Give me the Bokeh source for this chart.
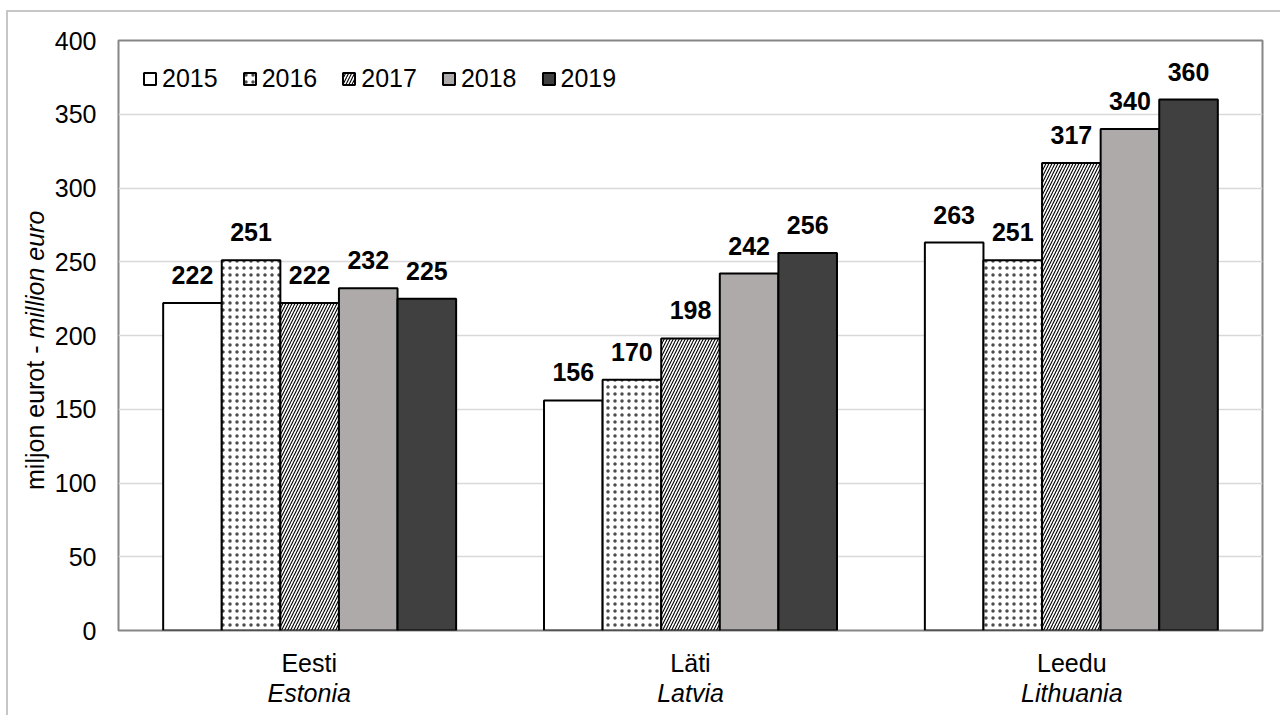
from bokeh.plotting import figure
from bokeh.layouts import row
from bokeh.models import FactorRange, Range1d, ColumnDataSource, CategoricalAxis, Div
from bokeh.core.properties import value
from bokeh.embed import file_html
from bokeh.resources import INLINE

# ---------------- data ----------------
countries = ["Eesti", "Läti", "Leedu"]
countries_en = ["Estonia", "Latvia", "Lithuania"]
years = ["2015", "2016", "2017", "2018", "2019"]
v2015 = [222, 156, 263]
v2016 = [251, 170, 251]
v2017 = [222, 198, 317]
v2018 = [232, 242, 340]
v2019 = [225, 256, 360]
y_ticks = [0, 50, 100, 150, 200, 250, 300, 350, 400]
y_label_et = "miljon eurot - "
y_label_en = "million euro"

series = [v2015, v2016, v2017, v2018, v2019]

FONT = "Liberation Sans"
FS = "25px"
GROUP_PAD = 1.5
H = 703
LEFT_W = 43
MAIN_W = 1272 - LEFT_W

styles = [
    dict(fill_color="white"),
    dict(fill_color="white", hatch_pattern="dot", hatch_color="black", hatch_scale=7,
         hatch_weight=0.3, hatch_alpha=0.7),
    dict(fill_color="white", hatch_pattern="right_diagonal_line", hatch_color="black",
         hatch_scale=6, hatch_weight=1.1),
    dict(fill_color="#aeaaaa"),
    dict(fill_color="#404040"),
]

# ---------------- main chart ----------------
factors = [(c, y) for c in countries for y in years]
x_range = FactorRange(*factors, factor_padding=0, group_padding=GROUP_PAD, range_padding=0.0847)

p = figure(x_range=x_range, y_range=Range1d(0, 400), width=MAIN_W, height=H,
           output_backend="svg", toolbar_location=None,
           min_border_left=66, min_border_right=18, min_border_top=28, min_border_bottom=85)
p.extra_x_ranges = {"et": FactorRange(*countries), "en": FactorRange(*countries_en)}

p.outline_line_color = "#868686"
p.outline_line_width = 2
p.xgrid.grid_line_color = None
p.ygrid.grid_line_color = "#d9d9d9"
p.ygrid.grid_line_width = 1.5
p.xaxis.visible = False

p.yaxis.ticker = y_ticks
p.yaxis.axis_line_color = None
p.yaxis.major_tick_line_color = None
p.yaxis.major_tick_out = 0
p.yaxis.minor_tick_line_color = None
p.yaxis.major_label_standoff = 22
p.yaxis.major_label_text_font = FONT
p.yaxis.major_label_text_font_size = FS
p.yaxis.major_label_text_color = "black"

for name, style, standoff in [("et", "normal", 12), ("en", "italic", -7)]:
    ax = CategoricalAxis(x_range_name=name, axis_line_color=None, major_tick_line_color=None,
                         minor_tick_line_color=None, major_label_standoff=standoff,
                         major_label_text_font=FONT, major_label_text_font_size=FS,
                         major_label_text_font_style=style, major_label_text_color="black")
    p.add_layout(ax, "below")

for vals, yr, st in zip(series, years, styles):
    xs = [(c, yr) for c in countries]
    src = ColumnDataSource(dict(x=xs, top=vals, label=[str(v) for v in vals]))
    p.vbar(x="x", top="top", width=1, source=src, line_color="black", line_width=2,
           legend_label=yr, **st)
    p.text(x="x", y="top", text="label", source=src, text_align="center",
           text_baseline="alphabetic", y_offset=-28, text_font=value(FONT),
           text_font_style="bold", text_font_size=FS, text_color="black")

lg = p.legend[0]
lg.orientation = "horizontal"
lg.location = "top_left"
lg.margin = 24
lg.padding = 24
lg.spacing = 24
lg.label_standoff = 5
lg.glyph_width = 15
lg.glyph_height = 15
lg.border_line_color = None
lg.background_fill_alpha = 0
lg.label_text_font = FONT
lg.label_text_font_size = FS
lg.label_text_color = "black"

# ---------------- y-axis title (mixed upright / italic), rotated ----------------
ylabel_html = (
    f'<div style="position:relative;width:{LEFT_W}px;height:{H}px;">'
    f'<div style="position:absolute;left:12.8px;top:478px;transform-origin:0 0;'
    f'transform:rotate(-90deg);white-space:nowrap;font-family:\'{FONT}\';'
    f'font-size:{FS};line-height:29px;color:#000;">'
    f'{y_label_et}<i>{y_label_en}</i></div></div>'
)
ylab = Div(text=ylabel_html, width=LEFT_W, height=H, margin=0)

layout = row(ylab, p)
layout.styles = {"border-left": "2px solid #c6c6c6", "border-top": "2px solid #c6c6c6",
                 "margin-left": "6px", "margin-top": "10px"}
open("out.html", "w").write(file_html(layout, INLINE))
